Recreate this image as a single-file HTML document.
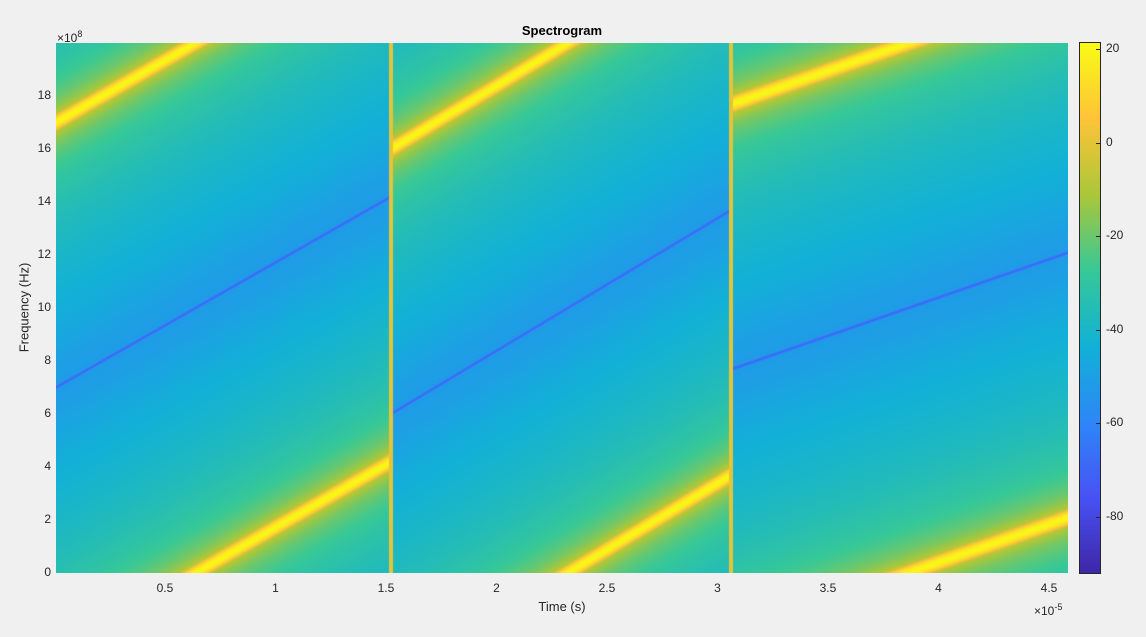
<!DOCTYPE html>
<html><head><meta charset="utf-8"><style>
body{margin:0;background:#f0f0f0;width:1146px;height:637px;overflow:hidden;font-family:"Liberation Sans",sans-serif;color:#262626;position:relative}
.t{position:absolute;font-size:12px;white-space:nowrap}
</style></head><body>
<div class="t" style="left:0;width:1124px;text-align:center;top:23px;font-weight:bold;font-size:13px;color:#000">Spectrogram</div>
<div class="t" style="left:57px;top:29px;font-size:12px">×10<sup style="font-size:9px">8</sup></div>
<canvas id="cv" width="1012" height="530" style="position:absolute;left:56px;top:43px"></canvas>
<canvas id="cb" width="20" height="530" style="position:absolute;left:1080px;top:43px;outline:1px solid #262626"></canvas>
<div id="lab"></div>
<div class="t" style="left:-26px;top:300px;font-size:13px;transform:rotate(-90deg);width:100px;text-align:center">Frequency (Hz)</div>
<div class="t" style="left:512px;top:599px;font-size:13px;width:100px;text-align:center">Time (s)</div>
<div class="t" style="left:1034px;top:602px">×10<sup style="font-size:9px">-5</sup></div>
<script>
const segStart=[0.007,1.533,3.068];
const segEnd=[1.515,3.05,4.586];
const segF0=[17.0,16.05,17.7];
const segSlope=[4.75,5.0,2.89];
const xTicks=[0.5,1,1.5,2,2.5,3,3.5,4,4.5];
const yTicks=[0,2,4,6,8,10,12,14,16,18];
const cTicks=[20,0,-20,-40,-60,-80];
const X0=56,X1=1068,Y0=43,Y1=573,tmin=0.007,tmax=4.586,fmin=0,fmax=20,cmin=-92,cmax=21.3;
const xs=t=>X0+(t-tmin)/(tmax-tmin)*(X1-X0);
const ys=f=>Y1-(f-fmin)/(fmax-fmin)*(Y1-Y0);
const P=[[0.2422,0.1504,0.6603],[0.2810,0.3228,0.9579],[0.1786,0.5289,0.9682],[0.0689,0.6948,0.8394],[0.2161,0.7843,0.5923],[0.6720,0.7793,0.2227],[0.9970,0.7659,0.2199],[0.9769,0.9839,0.0805]];
function cmap(v){let f=(v-cmin)/(cmax-cmin);f=Math.max(0,Math.min(1,f))*7;let i=Math.min(6,Math.floor(f)),r=f-i;return P[i].map((c,j)=>Math.round(255*(c+(P[i+1][j]-c)*r)));}
function val(t,f){
  for(let s=0;s<segStart.length;s++){
    if(t>=segStart[s]&&t<=segEnd[s]){
      let fc=((segF0[s]+segSlope[s]*(t-segStart[s]))%20+20)%20;
      let d=Math.abs(f-fc);d=Math.min(d,20-d);
      let main=20-250*d*d;
      let side=-10-27*Math.log10(Math.max(d,0.3)/0.4);
      let v=Math.max(main,side);
      let dm=Math.abs(d-10);
      v-=4*Math.exp(-(dm/2.2)*(dm/2.2));
      v-=18*Math.exp(-(dm/0.06)*(dm/0.06));
      return v;
    }
  }
  return 0;
}
const cv=document.getElementById('cv'),cx=cv.getContext('2d'),W=cv.width,H=cv.height;
const img=cx.createImageData(W,H);
for(let py=0;py<H;py++){const f=fmax-(py+0.5)/H*(fmax-fmin);
  for(let px=0;px<W;px++){const t=tmin+(px+0.5)/W*(tmax-tmin);
    const c=cmap(val(t,f));const k=(py*W+px)*4;img.data[k]=c[0];img.data[k+1]=c[1];img.data[k+2]=c[2];img.data[k+3]=255;}}
cx.putImageData(img,0,0);
const cb=document.getElementById('cb'),bx=cb.getContext('2d');
for(let py=0;py<530;py++){const c=cmap(cmax-(py+0.5)/530*(cmax-cmin));bx.fillStyle=`rgb(${c})`;bx.fillRect(0,py,20,1);}
const lab=document.getElementById('lab');
xTicks.forEach(v=>{const d=document.createElement('div');d.className='t';


d.style.left=(xs(v)-20)+'px';d.style.width='40px';d.style.textAlign='center';d.style.top='581px';d.textContent=v;lab.appendChild(d);});
yTicks.forEach(v=>{const d=document.createElement('div');d.className='t';


d.style.left='10px';d.style.width='41px';d.style.textAlign='right';d.style.top=(ys(v)-8)+'px';d.textContent=v;lab.appendChild(d);});
cTicks.forEach(v=>{const y=Y1-(v-cmin)/(cmax-cmin)*(Y1-Y0);const d=document.createElement('div');d.className='t';


d.style.left='1106px';d.style.top=(y-8)+'px';d.textContent=v;lab.appendChild(d);
const tk=document.createElement('div');


tk.style.cssText=`position:absolute;left:1096px;top:${y}px;width:4px;height:1px;background:#262626`;lab.appendChild(tk);});
</script>
</body></html>
